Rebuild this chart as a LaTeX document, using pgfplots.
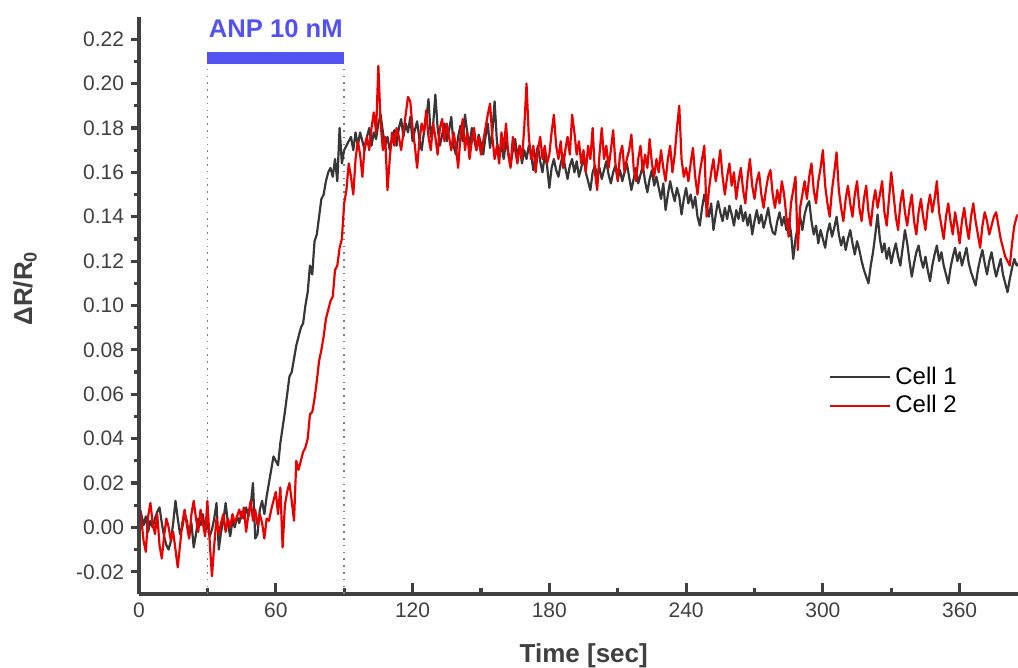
\documentclass[border=0pt]{standalone}
\usepackage{fontspec}
\setmainfont{Liberation Sans}
\usepackage{pgfplots}
\pgfplotsset{compat=1.18}
\definecolor{axisgray}{RGB}{64,64,64}
\definecolor{cellone}{RGB}{55,55,55}
\definecolor{celltwo}{RGB}{235,0,0}
\definecolor{anpblue}{RGB}{82,82,240}
\begin{document}
\begin{tikzpicture}
\begin{axis}[
  name=main,
  scale only axis, width=439.5bp, height=288.5bp,
  xmin=0, xmax=385.6, ymin=-0.03, ymax=0.23,
  axis lines=left, axis line style={-, line width=1.8bp, draw=axisgray},
  xtick={0,60,...,360}, minor x tick num=1,
  ytick=\empty,
  tick align=inside,
  major tick length=5.5bp, minor tick length=3bp,
  tick style={line width=1.6bp, draw=axisgray},
  /pgf/number format/assume math mode=true,
  xticklabel style={font=\fontsize{10.5bp}{12bp}\selectfont, text=axisgray, yshift=-1bp},
  xlabel={\textbf{Time [sec]}},
  xlabel style={at={(axis description cs:0.506,-0.1075)}, anchor=center, font=\fontsize{13bp}{15bp}\selectfont, text=axisgray},
  clip=false,
  legend style={at={(axis description cs:0.785,0.401)}, anchor=north west, draw=none, fill=none,
    font=\fontsize{12bp}{14bp}\selectfont, row sep=0bp, inner sep=0pt, cells={anchor=west}},
  legend image code/.code={\draw[#1, line width=1bp] (0bp,0bp) -- (30bp,0bp);},
]
% dotted markers and ANP bar
\addplot[forget plot, color=gray, line width=0.8bp, dash pattern=on 0.8bp off 2.6bp] coordinates {(30,-0.03) (30,0.2088)};
\addplot[forget plot, color=gray, line width=0.8bp, dash pattern=on 0.8bp off 2.6bp] coordinates {(90,-0.03) (90,0.2088)};
\addplot[forget plot, color=anpblue, line width=6bp] coordinates {(30,0.2115) (90,0.2115)};
\node[text=anpblue, font=\bfseries\fontsize{12.8bp}{14bp}\selectfont] at (axis cs:60,0.2249) {ANP 10 nM};
% Cell 1
\addplot[color=cellone, line width=1.1bp, line join=round] coordinates {
(0,0.010)(1,0.006)(2,0.001)(3,0.005)(4,-0.002)(5,0.003)(6,0.000)(7,0.004)(8,0.007)(9,0.009)
(10,0.002)(11,-0.004)(12,-0.008)(13,-0.010)(14,-0.006)(15,0.002)(16,0.012)(17,0.004)(18,-0.003)(19,0.000)
(20,0.006)(21,0.003)(22,-0.004)(23,0.002)(24,-0.009)(25,-0.003)(26,0.004)(27,0.001)(28,0.006)(29,-0.002)
(30,0.002)(31,-0.004)(32,-0.001)(33,0.004)(34,0.011)(35,-0.010)(36,-0.002)(37,0.003)(38,0.011)(39,0.002)
(40,-0.004)(41,0.003)(42,0.000)(43,0.005)(44,0.002)(45,0.007)(46,0.004)(47,0.009)(48,0.005)(49,0.010)
(50,0.020)(51,-0.005)(52,-0.003)(53,0.008)(54,0.012)(55,0.006)(56,0.014)(57,0.020)(58,0.026)(59,0.032)
(60,0.030)(61,0.028)(62,0.038)(63,0.045)(64,0.052)(65,0.060)(66,0.068)(67,0.070)(68,0.076)(69,0.082)
(70,0.086)(71,0.090)(72,0.092)(73,0.100)(74,0.106)(75,0.118)(76,0.114)(77,0.129)(78,0.132)(79,0.140)
(80,0.148)(81,0.150)(82,0.156)(83,0.160)(84,0.162)(85,0.158)(86,0.166)(87,0.156)(88,0.180)(89,0.164)
(90,0.170)(91,0.172)(92,0.174)(93,0.176)(94,0.170)(95,0.178)(96,0.172)(97,0.178)(98,0.174)(99,0.170)
(100,0.176)(101,0.180)(102,0.172)(103,0.178)(104,0.175)(105,0.182)(106,0.186)(107,0.178)(108,0.172)(109,0.176)
(110,0.170)(111,0.175)(112,0.179)(113,0.172)(114,0.180)(115,0.184)(116,0.176)(117,0.182)(118,0.178)(119,0.185)
(120,0.174)(121,0.179)(122,0.183)(123,0.175)(124,0.170)(125,0.178)(126,0.184)(127,0.193)(128,0.176)(129,0.181)
(130,0.195)(131,0.180)(132,0.172)(133,0.177)(134,0.182)(135,0.174)(136,0.179)(137,0.185)(138,0.172)(139,0.168)
(140,0.176)(141,0.181)(142,0.174)(143,0.186)(144,0.178)(145,0.172)(146,0.180)(147,0.175)(148,0.170)(149,0.177)
(150,0.173)(151,0.168)(152,0.176)(153,0.182)(154,0.171)(155,0.178)(156,0.192)(157,0.174)(158,0.168)(159,0.172)
(160,0.166)(161,0.174)(162,0.169)(163,0.163)(164,0.170)(165,0.175)(166,0.167)(167,0.172)(168,0.164)(169,0.170)
(170,0.166)(171,0.172)(172,0.168)(173,0.161)(174,0.167)(175,0.172)(176,0.165)(177,0.160)(178,0.168)(179,0.163)
(180,0.153)(181,0.162)(182,0.166)(183,0.161)(184,0.158)(185,0.164)(186,0.168)(187,0.162)(188,0.157)(189,0.163)
(190,0.166)(191,0.160)(192,0.165)(193,0.158)(194,0.162)(195,0.167)(196,0.160)(197,0.156)(198,0.152)(199,0.160)
(200,0.163)(201,0.158)(202,0.162)(203,0.157)(204,0.161)(205,0.165)(206,0.159)(207,0.155)(208,0.160)(209,0.163)
(210,0.157)(211,0.161)(212,0.156)(213,0.160)(214,0.164)(215,0.158)(216,0.152)(217,0.157)(218,0.162)(219,0.155)
(220,0.159)(221,0.163)(222,0.156)(223,0.151)(224,0.157)(225,0.161)(226,0.154)(227,0.158)(228,0.153)(229,0.148)
(230,0.155)(231,0.143)(232,0.150)(233,0.156)(234,0.151)(235,0.147)(236,0.153)(237,0.149)(238,0.141)(239,0.148)
(240,0.153)(241,0.146)(242,0.150)(243,0.144)(244,0.149)(245,0.140)(246,0.136)(247,0.144)(248,0.150)(249,0.145)
(250,0.140)(251,0.146)(252,0.134)(253,0.141)(254,0.147)(255,0.142)(256,0.138)(257,0.144)(258,0.139)(259,0.145)
(260,0.141)(261,0.136)(262,0.143)(263,0.139)(264,0.145)(265,0.138)(266,0.142)(267,0.136)(268,0.141)(269,0.132)
(270,0.138)(271,0.143)(272,0.137)(273,0.141)(274,0.135)(275,0.139)(276,0.144)(277,0.137)(278,0.133)(279,0.132)
(280,0.138)(281,0.142)(282,0.136)(283,0.140)(284,0.134)(285,0.139)(286,0.133)(287,0.121)(288,0.130)(289,0.136)
(290,0.140)(291,0.134)(292,0.141)(293,0.145)(294,0.147)(295,0.138)(296,0.132)(297,0.136)(298,0.128)(299,0.134)
(300,0.130)(301,0.126)(302,0.133)(303,0.137)(304,0.131)(305,0.135)(306,0.140)(307,0.132)(308,0.127)(309,0.131)
(310,0.125)(311,0.130)(312,0.134)(313,0.128)(314,0.123)(315,0.129)(316,0.125)(317,0.120)(318,0.116)(319,0.113)
(320,0.110)(321,0.118)(322,0.124)(323,0.132)(324,0.141)(325,0.130)(326,0.124)(327,0.128)(328,0.121)(329,0.126)
(330,0.119)(331,0.124)(332,0.128)(333,0.122)(334,0.118)(335,0.126)(336,0.134)(337,0.128)(338,0.120)(339,0.113)
(340,0.119)(341,0.124)(342,0.127)(343,0.121)(344,0.117)(345,0.122)(346,0.116)(347,0.111)(348,0.118)(349,0.123)
(350,0.127)(351,0.120)(352,0.124)(353,0.118)(354,0.114)(355,0.110)(356,0.117)(357,0.122)(358,0.126)(359,0.120)
(360,0.124)(361,0.118)(362,0.122)(363,0.126)(364,0.119)(365,0.115)(366,0.112)(367,0.109)(368,0.116)(369,0.121)
(370,0.125)(371,0.119)(372,0.114)(373,0.120)(374,0.124)(375,0.118)(376,0.113)(377,0.117)(378,0.121)(379,0.114)
(380,0.110)(381,0.106)(382,0.112)(383,0.117)(384,0.121)(385,0.118)(385.6,0.119)
};
\addlegendentry{Cell 1}
% Cell 2
\addplot[color=celltwo, line width=1.1bp, line join=round] coordinates {
(0,0.011)(1,0.004)(2,-0.006)(3,-0.011)(4,0.005)(5,0.011)(6,0.002)(7,-0.003)(8,0.006)(9,-0.008)
(10,-0.014)(11,-0.004)(12,0.004)(13,0.000)(14,-0.006)(15,-0.002)(16,-0.010)(17,-0.018)(18,-0.008)(19,0.002)
(20,0.008)(21,0.001)(22,-0.005)(23,0.006)(24,0.012)(25,0.004)(26,-0.002)(27,0.008)(28,0.002)(29,-0.004)
(30,0.012)(31,-0.006)(32,-0.022)(33,-0.008)(34,0.004)(35,-0.003)(36,0.002)(37,0.006)(38,-0.002)(39,0.004)
(40,0.000)(41,0.006)(42,0.002)(43,0.005)(44,0.008)(45,0.004)(46,0.009)(47,-0.002)(48,0.006)(49,0.012)
(50,0.003)(51,0.008)(52,0.001)(53,0.006)(54,0.002)(55,-0.005)(56,0.004)(57,0.003)(58,0.008)(59,0.012)
(60,0.016)(61,0.006)(62,0.018)(63,-0.009)(64,0.010)(65,0.016)(66,0.020)(67,0.012)(68,0.003)(69,0.030)
(70,0.026)(71,0.030)(72,0.034)(73,0.036)(74,0.040)(75,0.051)(76,0.052)(77,0.058)(78,0.066)(79,0.075)
(80,0.080)(81,0.086)(82,0.094)(83,0.098)(84,0.102)(85,0.104)(86,0.116)(87,0.118)(88,0.126)(89,0.130)
(90,0.146)(91,0.152)(92,0.164)(93,0.158)(94,0.150)(95,0.166)(96,0.174)(97,0.168)(98,0.158)(99,0.172)
(100,0.176)(101,0.170)(102,0.180)(103,0.187)(104,0.178)(105,0.208)(106,0.182)(107,0.170)(108,0.176)(109,0.152)
(110,0.166)(111,0.178)(112,0.172)(113,0.180)(114,0.176)(115,0.170)(116,0.178)(117,0.186)(118,0.194)(119,0.192)
(120,0.180)(121,0.172)(122,0.162)(123,0.174)(124,0.182)(125,0.178)(126,0.188)(127,0.176)(128,0.170)(129,0.182)
(130,0.176)(131,0.168)(132,0.180)(133,0.184)(134,0.174)(135,0.182)(136,0.176)(137,0.170)(138,0.178)(139,0.172)
(140,0.162)(141,0.176)(142,0.184)(143,0.170)(144,0.178)(145,0.166)(146,0.174)(147,0.180)(148,0.170)(149,0.176)
(150,0.168)(151,0.174)(152,0.180)(153,0.186)(154,0.191)(155,0.176)(156,0.166)(157,0.172)(158,0.164)(159,0.178)
(160,0.170)(161,0.182)(162,0.168)(163,0.162)(164,0.176)(165,0.170)(166,0.164)(167,0.172)(168,0.166)(169,0.180)
(170,0.200)(171,0.176)(172,0.166)(173,0.172)(174,0.160)(175,0.170)(176,0.176)(177,0.166)(178,0.172)(179,0.164)
(180,0.168)(181,0.178)(182,0.186)(183,0.172)(184,0.166)(185,0.174)(186,0.162)(187,0.170)(188,0.176)(189,0.168)
(190,0.186)(191,0.178)(192,0.168)(193,0.174)(194,0.164)(195,0.170)(196,0.160)(197,0.172)(198,0.166)(199,0.180)
(200,0.160)(201,0.152)(202,0.168)(203,0.180)(204,0.166)(205,0.172)(206,0.162)(207,0.170)(208,0.179)(209,0.164)
(210,0.156)(211,0.168)(212,0.172)(213,0.160)(214,0.166)(215,0.170)(216,0.177)(217,0.162)(218,0.156)(219,0.166)
(220,0.172)(221,0.160)(222,0.168)(223,0.162)(224,0.175)(225,0.164)(226,0.158)(227,0.166)(228,0.160)(229,0.170)
(230,0.162)(231,0.156)(232,0.166)(233,0.172)(234,0.160)(235,0.168)(236,0.180)(237,0.190)(238,0.166)(239,0.158)
(240,0.162)(241,0.156)(242,0.164)(243,0.171)(244,0.158)(245,0.150)(246,0.160)(247,0.166)(248,0.172)(249,0.140)
(250,0.152)(251,0.160)(252,0.166)(253,0.156)(254,0.162)(255,0.170)(256,0.158)(257,0.150)(258,0.158)(259,0.164)
(260,0.154)(261,0.160)(262,0.148)(263,0.156)(264,0.162)(265,0.152)(266,0.146)(267,0.158)(268,0.166)(269,0.154)
(270,0.148)(271,0.156)(272,0.160)(273,0.150)(274,0.144)(275,0.152)(276,0.158)(277,0.161)(278,0.150)(279,0.144)
(280,0.152)(281,0.146)(282,0.156)(283,0.150)(284,0.140)(285,0.131)(286,0.146)(287,0.152)(288,0.158)(289,0.125)
(290,0.144)(291,0.150)(292,0.156)(293,0.148)(294,0.158)(295,0.164)(296,0.152)(297,0.146)(298,0.156)(299,0.162)
(300,0.170)(301,0.154)(302,0.146)(303,0.140)(304,0.152)(305,0.160)(306,0.169)(307,0.152)(308,0.144)(309,0.138)
(310,0.148)(311,0.154)(312,0.146)(313,0.140)(314,0.150)(315,0.156)(316,0.144)(317,0.138)(318,0.148)(319,0.154)
(320,0.142)(321,0.136)(322,0.146)(323,0.152)(324,0.144)(325,0.150)(326,0.156)(327,0.142)(328,0.136)(329,0.148)
(330,0.160)(331,0.150)(332,0.140)(333,0.134)(334,0.146)(335,0.152)(336,0.142)(337,0.136)(338,0.144)(339,0.150)
(340,0.138)(341,0.132)(342,0.142)(343,0.148)(344,0.140)(345,0.134)(346,0.144)(347,0.150)(348,0.142)(349,0.148)
(350,0.156)(351,0.142)(352,0.136)(353,0.130)(354,0.140)(355,0.146)(356,0.138)(357,0.132)(358,0.142)(359,0.136)
(360,0.128)(361,0.138)(362,0.144)(363,0.136)(364,0.130)(365,0.140)(366,0.146)(367,0.138)(368,0.132)(369,0.126)
(370,0.136)(371,0.142)(372,0.138)(373,0.132)(374,0.136)(375,0.140)(376,0.142)(377,0.136)(378,0.130)(379,0.126)
(380,0.122)(381,0.120)(382,0.118)(383,0.128)(384,0.136)(385,0.140)(385.6,0.141)
};
\addlegendentry{Cell 2}
\end{axis}
\begin{axis}[
  scale only axis, width=439.5bp, height=288.5bp,
  xmin=0, xmax=385.6, ymin=-0.03, ymax=0.23,
  axis x line=none, axis y line=left,
  axis line style={-, line width=1.8bp, draw=axisgray},
  xtick=\empty,
  ytick={-0.02,0,0.02,0.04,0.06,0.08,0.10,0.12,0.14,0.16,0.18,0.20,0.22},
  minor y tick num=1,
  tick align=outside,
  major tick length=4bp, minor tick length=2.5bp,
  tick style={line width=1.6bp, draw=axisgray},
  /pgf/number format/assume math mode=true,
  yticklabel style={font=\fontsize{10.5bp}{12bp}\selectfont, text=axisgray, /pgf/number format/fixed, /pgf/number format/fixed zerofill, /pgf/number format/precision=2},
  ylabel={\textbf{ΔR/R\textsubscript{0}}},
  ylabel style={at={(axis description cs:-0.1297,0.53)}, anchor=center, rotate=0, font=\fontsize{13bp}{15bp}\selectfont, text=axisgray},
]
\end{axis}
\pgfresetboundingbox
\path[use as bounding box] ([xshift=-69.5bp,yshift=-37bp]main.south west) rectangle ([yshift=8.5bp]main.north east);
\end{tikzpicture}
\end{document}
